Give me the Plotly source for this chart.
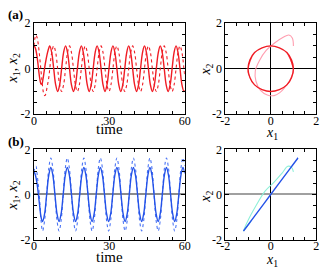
import plotly.graph_objects as go

W, H = 326, 276

# ---------------- panel (a) data ----------------
t_a = [0, 0.4, 0.8, 1.2, 1.6, 2.0, 2.4, 2.8, 3.2, 3.6, 4.0, 4.4, 4.8, 5.2, 5.6, 6.0,
       6.28, 7.07, 7.85, 8.64, 9.42, 10.21, 11.0, 11.78,
       12.57, 13.35, 14.14, 14.92, 15.71, 16.49, 17.28, 18.06,
       18.85, 19.63, 20.42, 21.21, 21.99, 22.78, 23.56, 24.35,
       25.13, 25.92, 26.7, 27.49, 28.27, 29.06, 29.85, 30.63,
       31.42, 32.2, 32.99, 33.77, 34.56, 35.34, 36.13, 36.91,
       37.7, 38.48, 39.27, 40.06, 40.84, 41.63, 42.41, 43.2,
       43.98, 44.77, 45.55, 46.34, 47.12, 47.91, 48.69, 49.48,
       50.27, 51.05, 51.84, 52.62, 53.41, 54.19, 54.98, 55.76,
       56.55, 57.33, 58.12, 58.9, 59.69, 60]
x1_a = [1.0, 0.95, 0.8, 0.55, 0.2, -0.2, -0.5, -0.68, -0.65, -0.45, -0.15, 0.15, 0.4, 0.62, 0.8, 0.94,
        1, 0.71, 0, -0.71, -1, -0.71, 0, 0.71,
        1, 0.71, 0, -0.71, -1, -0.71, 0, 0.71,
        1, 0.71, 0, -0.71, -1, -0.71, 0, 0.71,
        1, 0.71, 0, -0.71, -1, -0.71, 0, 0.71,
        1, 0.71, 0, -0.71, -1, -0.71, 0, 0.71,
        1, 0.71, 0, -0.71, -1, -0.71, 0, 0.71,
        1, 0.71, 0, -0.71, -1, -0.71, 0, 0.71,
        1, 0.71, 0, -0.71, -1, -0.71, 0, 0.71,
        1, 0.71, 0, -0.71, -1, -0.95]
x2_a = [1.0, 1.35, 1.48, 1.38, 1.15, 0.8, 0.35, -0.1, -0.55, -0.95, -1.15, -1.18, -1.05, -0.82, -0.58, -0.3,
        0, 0.71, 1, 0.71, 0, -0.71, -1, -0.71,
        0, 0.71, 1, 0.71, 0, -0.71, -1, -0.71,
        0, 0.71, 1, 0.71, 0, -0.71, -1, -0.71,
        0, 0.71, 1, 0.71, 0, -0.71, -1, -0.71,
        0, 0.71, 1, 0.71, 0, -0.71, -1, -0.71,
        0, 0.71, 1, 0.71, 0, -0.71, -1, -0.71,
        0, 0.71, 1, 0.71, 0, -0.71, -1, -0.71,
        0, 0.71, 1, 0.71, 0, -0.71, -1, -0.71,
        0, 0.71, 1, 0.71, 0, -0.3]
transient_end_a = 18   # points drawn pale in the phase portrait
steady_start_a = 16

# ---------------- panel (b) data ----------------
t_b = [0, 0.4, 0.8, 1.2, 1.6, 2.0, 2.4, 2.8,
       3.41, 4.23, 5.05, 5.88, 6.70, 7.52, 8.34, 9.16,
       9.99, 10.81, 11.63, 12.45, 13.27, 14.10, 14.92, 15.74,
       16.56, 17.38, 18.20, 19.03, 19.85, 20.67, 21.49, 22.31,
       23.14, 23.96, 24.78, 25.60, 26.42, 27.25, 28.07, 28.89,
       29.71, 30.53, 31.35, 32.18, 33.00, 33.82, 34.64, 35.46,
       36.29, 37.11, 37.93, 38.75, 39.57, 40.40, 41.22, 42.04,
       42.86, 43.68, 44.51, 45.33, 46.15, 46.97, 47.79, 48.61,
       49.44, 50.26, 51.08, 51.90, 52.72, 53.55, 54.37, 55.19,
       56.01, 56.83, 57.66, 58.48, 59.30, 60]
x1_b = [1.0, 0.92, 0.75, 0.5, 0.15, -0.25, -0.65, -1.0,
        -1.2, -0.85, 0, 0.85, 1.2, 0.85, 0, -0.85,
        -1.2, -0.85, 0, 0.85, 1.2, 0.85, 0, -0.85,
        -1.2, -0.85, 0, 0.85, 1.2, 0.85, 0, -0.85,
        -1.2, -0.85, 0, 0.85, 1.2, 0.85, 0, -0.85,
        -1.2, -0.85, 0, 0.85, 1.2, 0.85, 0, -0.85,
        -1.2, -0.85, 0, 0.85, 1.2, 0.85, 0, -0.85,
        -1.2, -0.85, 0, 0.85, 1.2, 0.85, 0, -0.85,
        -1.2, -0.85, 0, 0.85, 1.2, 0.85, 0, -0.85,
        -1.2, -0.85, 0, 0.85, 1.2, 0.94]
x2_b = [1.0, 1.2, 1.25, 0.95, 0.55, 0.15, -0.5, -1.15,
        -1.62, -1.15, 0, 1.15, 1.62, 1.15, 0, -1.15,
        -1.62, -1.15, 0, 1.15, 1.62, 1.15, 0, -1.15,
        -1.62, -1.15, 0, 1.15, 1.62, 1.15, 0, -1.15,
        -1.62, -1.15, 0, 1.15, 1.62, 1.15, 0, -1.15,
        -1.62, -1.15, 0, 1.15, 1.62, 1.15, 0, -1.15,
        -1.62, -1.15, 0, 1.15, 1.62, 1.15, 0, -1.15,
        -1.62, -1.15, 0, 1.15, 1.62, 1.15, 0, -1.15,
        -1.62, -1.15, 0, 1.15, 1.62, 1.15, 0, -1.15,
        -1.62, -1.15, 0, 1.15, 1.62, 1.27]
transient_end_b = 10
steady_start_b = 8

RED, PINK = "#f01c24", "#ff9eb0"
BLUE, BLUE_DOT, CYAN = "#2452e8", "#4a74f5", "#8ef0d8"

fig = go.Figure()

def sc(x, y, xa, ya, color, dash="solid", width=1.5):
    fig.add_trace(go.Scatter(x=x, y=y, mode="lines", xaxis=xa, yaxis=ya,
                             line=dict(color=color, width=width, dash=dash, shape="spline"),
                             hoverinfo="skip"))

# (a) time series
sc(t_a, x2_a, "x", "y", RED, "dot", 1.1)
sc(t_a, x1_a, "x", "y", RED, "solid", 1.4)
# (a) phase portrait
sc(x1_a[:transient_end_a], x2_a[:transient_end_a], "x2", "y2", PINK, "solid", 1.1)
sc(x1_a[steady_start_a:], x2_a[steady_start_a:], "x2", "y2", RED, "solid", 1.4)
# (b) time series
sc(t_b, x2_b, "x3", "y3", BLUE_DOT, "dot", 1.1)
sc(t_b, x1_b, "x3", "y3", BLUE, "solid", 1.4)
# (b) phase portrait
sc(x1_b[:transient_end_b], x2_b[:transient_end_b], "x4", "y4", CYAN, "solid", 1.1)
sc(x1_b[steady_start_b:], x2_b[steady_start_b:], "x4", "y4", BLUE, "solid", 1.4)

def px_x(a, b):
    return [a / W, b / W]

def px_y(top, bot):
    return [(H - bot) / H, (H - top) / H]

tickfont = dict(family="Liberation Serif", size=12, color="black")

def axis(domain, rng, tickvals, ticktext, minor_dtick, anchor, zl=False, zlcolor="black",
         zlw=1, standoff=0):
    return dict(domain=domain, range=rng, anchor=anchor, showline=True, linecolor="black",
                linewidth=1, mirror="allticks", ticks="inside", ticklen=4, tickwidth=1,
                tickcolor="black", tickmode="array", tickvals=tickvals, ticktext=ticktext,
                minor=dict(tickmode="linear", tick0=0, dtick=minor_dtick, ticks="inside",
                           ticklen=3, tickcolor="black", tickwidth=1),
                showgrid=False, zeroline=zl, zerolinecolor=zlcolor, zerolinewidth=zlw,
                tickfont=tickfont, fixedrange=True, ticklabelstandoff=standoff)

tv_t, tt_t = [0, 30, 60], ["0", "30", "60"]
tv_2, tt_2 = [-2, 0, 2], ["-2", "0", "2"]

xa_l = px_x(30, 186)
xa_r = px_x(228, 322)
ya_top = px_y(17, 113)
ya_bot = px_y(150, 245)

fig.update_layout(
    width=W, height=H, margin=dict(l=0, r=0, t=0, b=0),
    paper_bgcolor="white", plot_bgcolor="white", showlegend=False,
    font=dict(family="Liberation Serif", size=12, color="black"),
    xaxis=axis(xa_l, [0, 60], tv_t, tt_t, 5, "y", standoff=-5),
    yaxis=axis(ya_top, [-2, 2], tv_2, tt_2, 0.5, "x", zl=True),
    xaxis2=axis(xa_r, [-2, 2], tv_2, tt_2, 0.5, "y2", zl=True, standoff=-5),
    yaxis2=axis(ya_top, [-2, 2], tv_2, tt_2, 0.5, "x2", zl=True),
    xaxis3=axis(xa_l, [0, 60], tv_t, tt_t, 5, "y3", standoff=-5),
    yaxis3=axis(ya_bot, [-2, 2], tv_2, tt_2, 0.5, "x3", zl=True, zlcolor="#8c8c8c", zlw=2),
    xaxis4=axis(xa_r, [-2, 2], tv_2, tt_2, 0.5, "y4", zl=True, standoff=-5),
    yaxis4=axis(ya_bot, [-2, 2], tv_2, tt_2, 0.5, "x4", zl=True, zlcolor="#a0a0a0", zlw=2),
)

def ann(text, x, y, size=15, angle=0, xanchor="center", yanchor="middle"):
    fig.add_annotation(text=text, x=x / W, y=(H - y) / H, xref="paper", yref="paper",
                       showarrow=False, textangle=angle, xanchor=xanchor, yanchor=yanchor,
                       font=dict(family="Liberation Serif", size=size, color="black"))

X12 = "<i>x</i><sub>1</sub>, <i>x</i><sub>2</sub>"
X1 = "<i>x</i><sub>1</sub>"
X2 = "<i>x</i><sub>2</sub>"

ann("<b>(a)</b>", 1, 8, size=13, xanchor="left")
ann("<b>(b)</b>", 1, 142, size=13, xanchor="left")
for dy in (0, 134):
    ann("time", 108, 129 + dy, size=15)
    ann(X1, 276, 133 + dy, size=14)
    ann(X12, 9, 65 + dy, size=14, angle=-90)
    ann(X2, 209, 66 + dy, size=14, angle=-90)

fig.write_html("out.html", config={"displayModeBar": False},
               post_script="document.body.style.margin='0px';document.body.style.padding='0px';")
